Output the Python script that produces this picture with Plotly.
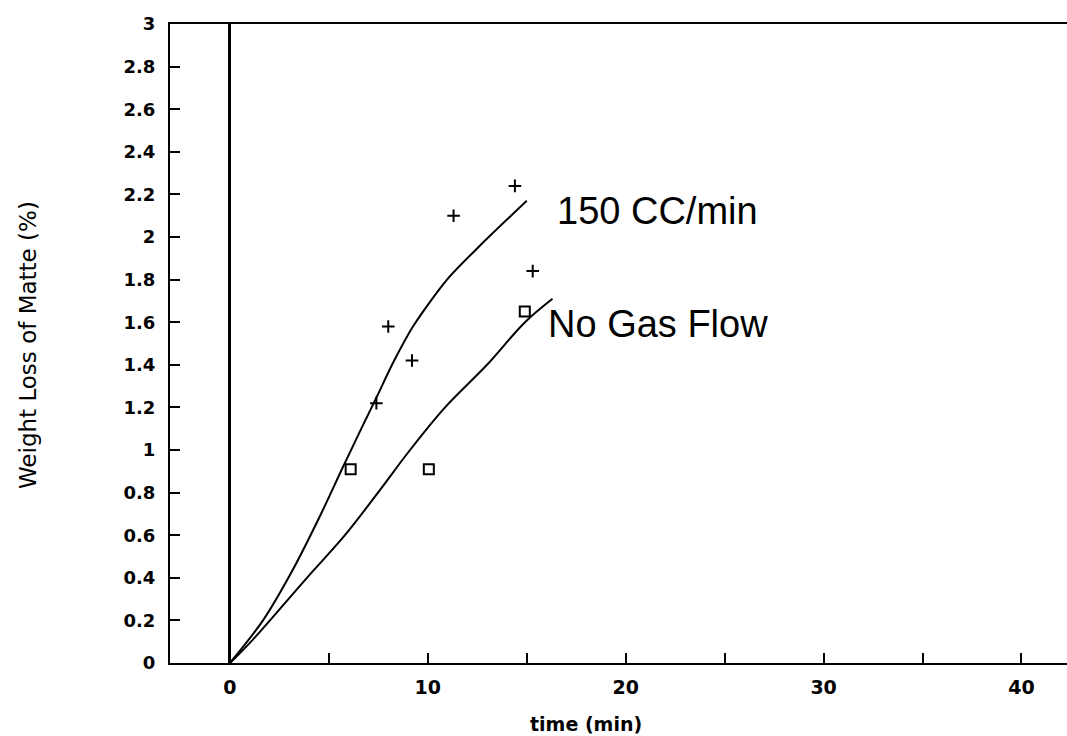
import plotly.graph_objects as go

# Measured points
plus_x = [7.4, 8.0, 9.2, 11.3, 14.4, 15.3]
plus_y = [1.22, 1.58, 1.42, 2.10, 2.24, 1.84]
sq_x = [6.1, 10.05, 14.9]
sq_y = [0.91, 0.91, 1.65]

# Fitted curves
c150_x = [0, 1.67, 3.19, 4.55, 5.71, 6.74, 7.42, 8.3, 9.25, 10.97, 12.64, 15.0]
c150_y = [0, 0.20, 0.44, 0.69, 0.92, 1.12, 1.25, 1.42, 1.58, 1.80, 1.96, 2.17]
cno_x = [0, 1.16, 3.89, 5.81, 7.48, 9.1, 10.87, 12.99, 14.91, 16.3]
cno_y = [0, 0.11, 0.40, 0.60, 0.80, 1.00, 1.20, 1.40, 1.60, 1.71]

x_tickvals = [0, 5, 10, 15, 20, 25, 30, 35, 40]
x_ticktext = ["0", "", "10", "", "20", "", "30", "", "40"]
y_tickvals = [0, 0.2, 0.4, 0.6, 0.8, 1, 1.2, 1.4, 1.6, 1.8, 2, 2.2, 2.4, 2.6, 2.8, 3]
y_ticktext = ["0", "0.2", "0.4", "0.6", "0.8", "1", "1.2", "1.4", "1.6", "1.8",
              "2", "2.2", "2.4", "2.6", "2.8", "3"]

labels = ["150 CC/min", "No Gas Flow"]
label_x = [16.45, 15.95]
label_y = [2.12, 1.59]

x_title = "time (min)"
y_title = "Weight Loss of Matte (%)"

fig = go.Figure()
fig.add_trace(go.Scatter(x=c150_x, y=c150_y, mode="lines",
                         line=dict(color="black", width=2, shape="spline", smoothing=0.8), showlegend=False))
fig.add_trace(go.Scatter(x=cno_x, y=cno_y, mode="lines",
                         line=dict(color="black", width=2, shape="spline", smoothing=1.0), showlegend=False))
fig.add_trace(go.Scatter(x=plus_x, y=plus_y, mode="markers",
                         marker=dict(symbol="cross-thin", size=9, line=dict(color="black", width=2)), showlegend=False))
fig.add_trace(go.Scatter(x=sq_x, y=sq_y, mode="markers",
                         marker=dict(symbol="square-open", size=10, color="black", line=dict(width=2)), showlegend=False))

for t, lx, ly in zip(labels, label_x, label_y):
    fig.add_annotation(x=lx, y=ly, text=t, showarrow=False, xanchor="left", yanchor="middle",
                       font=dict(family="Liberation Sans, Arial", size=38, color="black"))

fig.add_annotation(xref="paper", yref="paper", x=0.4638, y=-0.0955, text=x_title, showarrow=False,
                   xanchor="center", yanchor="middle",
                   font=dict(family="DejaVu Sans", size=19, weight="bold", color="black"))
fig.add_annotation(xref="paper", yref="paper", x=-0.158, y=0.498, text=y_title, showarrow=False,
                   textangle=-90, xanchor="center", yanchor="middle",
                   font=dict(family="DejaVu Sans", size=23, color="black"))

fig.update_layout(
    width=1067, height=736,
    margin=dict(l=170, r=0, t=24, b=73),
    plot_bgcolor="white", paper_bgcolor="white",
    font=dict(family="DejaVu Sans", color="black"),
    xaxis=dict(range=[-3.03, 42.3], tickvals=x_tickvals, ticktext=x_ticktext,
               ticks="inside", ticklen=10, tickwidth=2, tickcolor="black",
               showline=True, linecolor="black", linewidth=2, mirror=True,
               showgrid=False, zeroline=True, zerolinecolor="black", zerolinewidth=2.5,
               ticklabelstandoff=6,
               tickfont=dict(size=19, weight="bold")),
    yaxis=dict(range=[0, 3], tickvals=y_tickvals, ticktext=y_ticktext,
               ticks="inside", ticklen=10, tickwidth=2, tickcolor="black",
               showline=True, linecolor="black", linewidth=2,
               showgrid=False, zeroline=False,
               ticklabelstandoff=9,
               tickfont=dict(size=18, weight="bold")),
)

fig.write_html("out.html", config={"displayModeBar": False},
               post_script="document.body.style.margin='0';document.body.style.overflow='hidden';")
